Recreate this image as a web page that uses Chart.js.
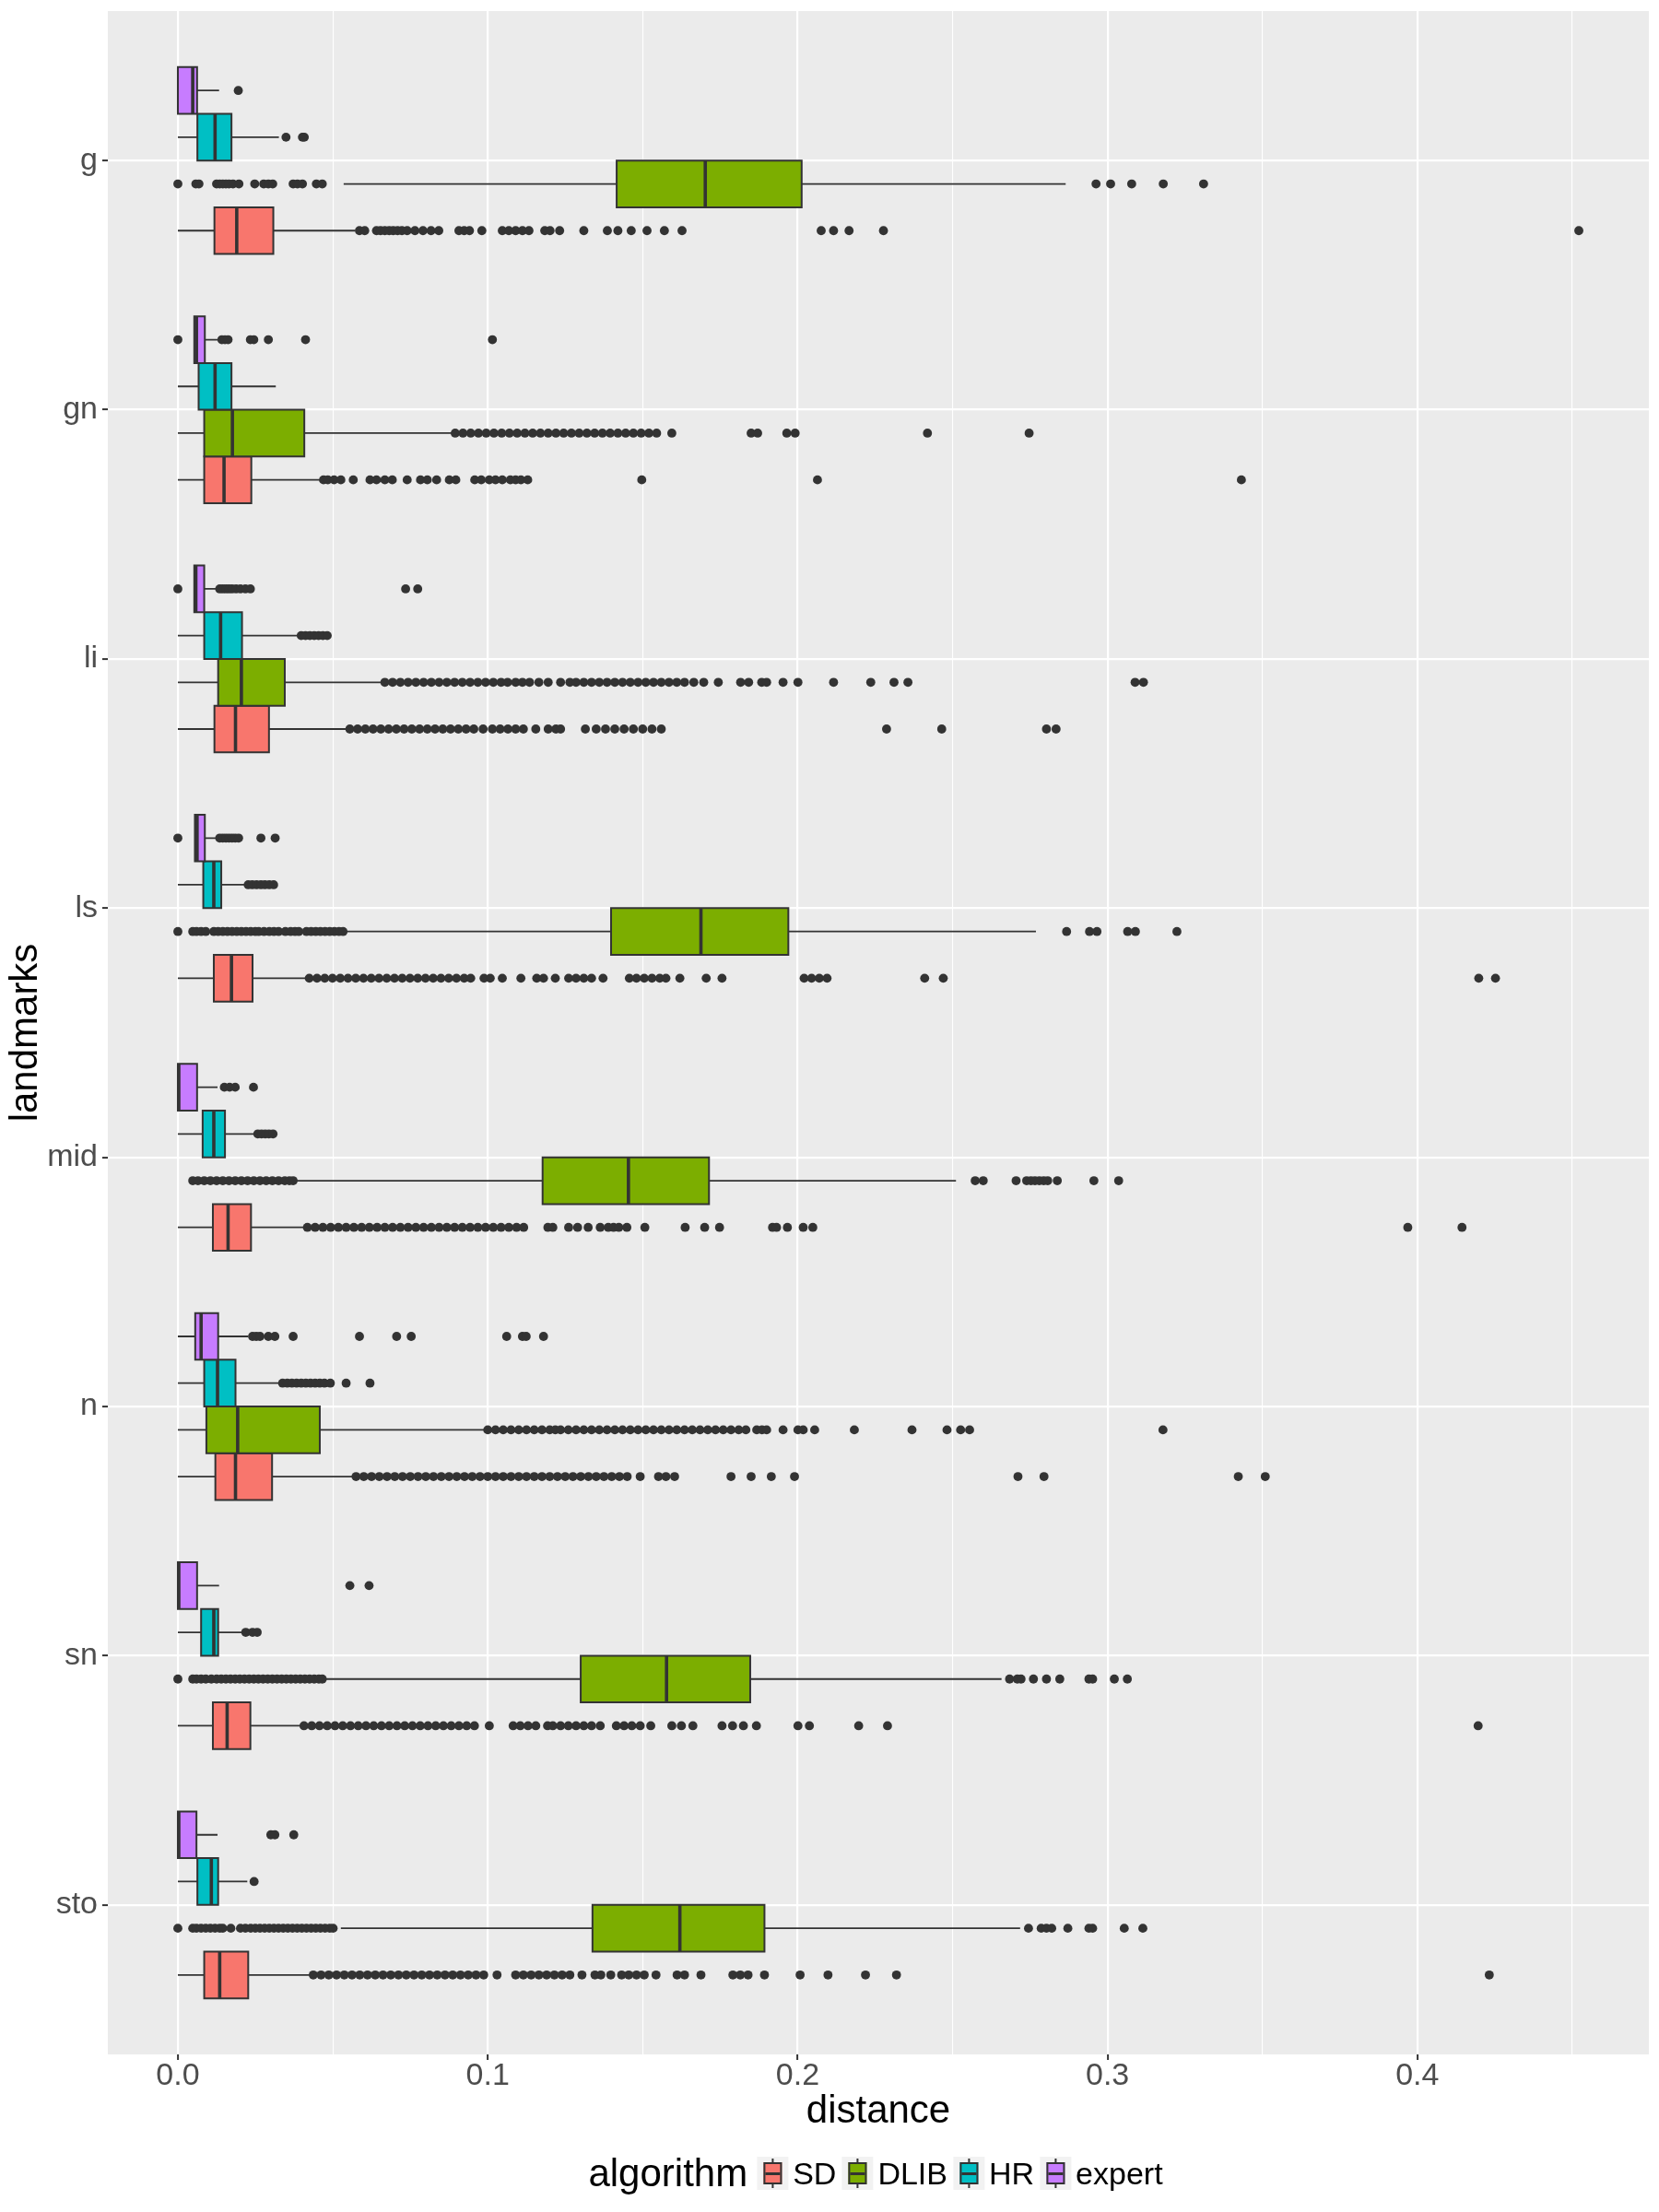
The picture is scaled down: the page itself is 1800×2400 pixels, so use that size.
<!DOCTYPE html>
<html>
<head>
<meta charset="utf-8">
<script src="https://cdn.jsdelivr.net/npm/chart.js@4.4.1/dist/chart.umd.min.js"></script>
<style>
  body { margin: 0; background: #fff; }
  #wrap { position: relative; width: 1800px; height: 2400px; }
  #legend {
    position: absolute; left: 953px; top: 2337px; height: 42px;
    transform: translateX(-50%);
    display: flex; align-items: center; white-space: nowrap;
    font-family: "Liberation Sans", Arial, Helvetica, sans-serif; color: #000;
  }
  .ttl { font-size: 42px; line-height: 42px; margin-right: 10px; }
  .lab { font-size: 34px; line-height: 42px; margin-left: 5px; margin-right: 6px; }
  .key { position: relative; width: 34px; height: 36px; background: #F2F2F2; }
  .key .wh { position: absolute; left: 16px; top: 2px; width: 2px; height: 32px; background: #333; }
  .key .bx { position: absolute; left: 7px; top: 6px; width: 20px; height: 24px; border: 2px solid #333; box-sizing: border-box; }
  .key .md { position: absolute; left: 0; right: 0; top: 50%; height: 3px; margin-top: -1.5px; background: #333; }
</style>
</head>
<body>
<div id="wrap">
  <canvas id="graph" width="1800" height="2400"></canvas>
  <div id="legend"><span class="ttl">algorithm</span></div>
</div>
<script>
// landmarks, top to bottom
const categories = ["g", "gn", "li", "ls", "mid", "n", "sn", "sto"];
const algorithms = ["SD", "DLIB", "HR", "expert"];
const xGrid = [0, 0.05, 0.1, 0.15, 0.2, 0.25, 0.3, 0.35, 0.4, 0.45];
const xMin = -0.0226;
const xMax = 0.4747;

// SD
const sdLow  = [0, 0, 0, 0, 0, 0, 0, 0];
const sdQ1   = [0.0118, 0.0085, 0.0118, 0.0116, 0.0113, 0.0121, 0.0113, 0.0085];
const sdMed  = [0.0190, 0.0149, 0.0186, 0.0173, 0.0162, 0.0186, 0.0159, 0.0135];
const sdQ3   = [0.0308, 0.0237, 0.0294, 0.0241, 0.0236, 0.0304, 0.0234, 0.0227];
const sdHigh = [0.0572, 0.0461, 0.0548, 0.0419, 0.0412, 0.0569, 0.0401, 0.0432];
const sdOutliers = [
  [0.0586, 0.0603, 0.0641, 0.0654, 0.0668, 0.0682, 0.0695, 0.0709, 0.0723, 0.0740, 0.0765, 0.0791, 0.0817, 0.0842, 0.0907, 0.0924, 0.0941, 0.0981, 0.1047, 0.1068, 0.1090, 0.1112, 0.1133, 0.1184, 0.1201, 0.1232, 0.1310, 0.1386, 0.1420, 0.1463, 0.1514, 0.1570, 0.1627, 0.2076, 0.2116, 0.2166, 0.2277, 0.4521],
  [0.0470, 0.0484, 0.0504, 0.0526, 0.0566, 0.0620, 0.0641, 0.0668, 0.0692, 0.0740, 0.0783, 0.0805, 0.0835, 0.0876, 0.0897, 0.0958, 0.0979, 0.1005, 0.1025, 0.1047, 0.1073, 0.1090, 0.1107, 0.1129, 0.1497, 0.2064, 0.3432],
  [0.0555, 0.0580, 0.0605, 0.0630, 0.0655, 0.0680, 0.0705, 0.0730, 0.0755, 0.0780, 0.0805, 0.0830, 0.0855, 0.0880, 0.0905, 0.0930, 0.0955, 0.0985, 0.1015, 0.1040, 0.1065, 0.1090, 0.1115, 0.1155, 0.1195, 0.1220, 0.1235, 0.1315, 0.1350, 0.1380, 0.1410, 0.1440, 0.1470, 0.1500, 0.1530, 0.1560, 0.2287, 0.2465, 0.2803, 0.2834],
  [0.0424, 0.0449, 0.0474, 0.0499, 0.0524, 0.0549, 0.0574, 0.0599, 0.0624, 0.0649, 0.0674, 0.0699, 0.0724, 0.0749, 0.0774, 0.0799, 0.0824, 0.0849, 0.0874, 0.0899, 0.0924, 0.0945, 0.0988, 0.1008, 0.1047, 0.1107, 0.1158, 0.1180, 0.1218, 0.1261, 0.1285, 0.1310, 0.1335, 0.1372, 0.1457, 0.1480, 0.1505, 0.1530, 0.1555, 0.1575, 0.1620, 0.1705, 0.1756, 0.2021, 0.2045, 0.2070, 0.2095, 0.2410, 0.2470, 0.4198, 0.4252],
  [0.0418, 0.0443, 0.0468, 0.0493, 0.0518, 0.0543, 0.0568, 0.0593, 0.0618, 0.0643, 0.0668, 0.0693, 0.0718, 0.0743, 0.0768, 0.0793, 0.0818, 0.0843, 0.0868, 0.0893, 0.0918, 0.0943, 0.0968, 0.0993, 0.1018, 0.1043, 0.1068, 0.1093, 0.1116, 0.1194, 0.1210, 0.1261, 0.1290, 0.1324, 0.1363, 0.1389, 0.1406, 0.1423, 0.1449, 0.1507, 0.1637, 0.1700, 0.1748, 0.1919, 0.1932, 0.1967, 0.2018, 0.2049, 0.3969, 0.4144],
  [0.0575, 0.0600, 0.0625, 0.0650, 0.0675, 0.0700, 0.0725, 0.0750, 0.0775, 0.0800, 0.0825, 0.0850, 0.0875, 0.0900, 0.0925, 0.0950, 0.0975, 0.1000, 0.1025, 0.1050, 0.1075, 0.1100, 0.1125, 0.1150, 0.1175, 0.1200, 0.1225, 0.1250, 0.1275, 0.1300, 0.1325, 0.1350, 0.1375, 0.1400, 0.1425, 0.1450, 0.1492, 0.1551, 0.1575, 0.1603, 0.1785, 0.1850, 0.1915, 0.1990, 0.2711, 0.2795, 0.3422, 0.3509],
  [0.0407, 0.0432, 0.0457, 0.0482, 0.0507, 0.0532, 0.0557, 0.0582, 0.0607, 0.0632, 0.0657, 0.0682, 0.0707, 0.0732, 0.0757, 0.0782, 0.0807, 0.0832, 0.0857, 0.0882, 0.0907, 0.0932, 0.0957, 0.1005, 0.1082, 0.1105, 0.1130, 0.1155, 0.1193, 0.1210, 0.1235, 0.1260, 0.1285, 0.1310, 0.1335, 0.1363, 0.1415, 0.1440, 0.1465, 0.1492, 0.1526, 0.1594, 0.1625, 0.1662, 0.1756, 0.1790, 0.1825, 0.1867, 0.2001, 0.2038, 0.2197, 0.2290, 0.4196],
  [0.0437, 0.0462, 0.0487, 0.0512, 0.0537, 0.0562, 0.0587, 0.0612, 0.0637, 0.0662, 0.0687, 0.0712, 0.0737, 0.0762, 0.0787, 0.0812, 0.0837, 0.0862, 0.0887, 0.0912, 0.0937, 0.0962, 0.0987, 0.1030, 0.1090, 0.1115, 0.1140, 0.1165, 0.1190, 0.1215, 0.1240, 0.1265, 0.1304, 0.1346, 0.1365, 0.1397, 0.1432, 0.1455, 0.1480, 0.1505, 0.1543, 0.1611, 0.1635, 0.1688, 0.1791, 0.1815, 0.1840, 0.1893, 0.2008, 0.2098, 0.2219, 0.2319, 0.4232]
];

// DLIB
const dlibLow  = [0.0535, 0, 0, 0.0543, 0.0384, 0, 0.0475, 0.0526];
const dlibQ1   = [0.1416, 0.0085, 0.0130, 0.1398, 0.1177, 0.0092, 0.1300, 0.1338];
const dlibMed  = [0.1702, 0.0176, 0.0205, 0.1688, 0.1454, 0.0193, 0.1577, 0.1620];
const dlibQ3   = [0.2013, 0.0408, 0.0345, 0.1970, 0.1714, 0.0458, 0.1847, 0.1893];
const dlibHigh = [0.2865, 0.0890, 0.0663, 0.2769, 0.2511, 0.0996, 0.2658, 0.2718];
const dlibOutliers = [
  [0, 0.0058, 0.0068, 0.0125, 0.0135, 0.0145, 0.0155, 0.0165, 0.0178, 0.0197, 0.0248, 0.0277, 0.0292, 0.0306, 0.0372, 0.0386, 0.0402, 0.0447, 0.0466, 0.2963, 0.3010, 0.3078, 0.3180, 0.3310],
  [0.0895, 0.0920, 0.0945, 0.0970, 0.0995, 0.1020, 0.1045, 0.1070, 0.1095, 0.1120, 0.1145, 0.1170, 0.1195, 0.1220, 0.1245, 0.1270, 0.1295, 0.1320, 0.1345, 0.1370, 0.1395, 0.1420, 0.1445, 0.1470, 0.1495, 0.1520, 0.1545, 0.1594, 0.1850, 0.1871, 0.1965, 0.1992, 0.2419, 0.2747],
  [0.0668, 0.0693, 0.0718, 0.0743, 0.0768, 0.0793, 0.0818, 0.0843, 0.0868, 0.0893, 0.0918, 0.0943, 0.0968, 0.0993, 0.1018, 0.1043, 0.1064, 0.1090, 0.1112, 0.1135, 0.1165, 0.1195, 0.1235, 0.1265, 0.1285, 0.1310, 0.1335, 0.1360, 0.1385, 0.1410, 0.1435, 0.1460, 0.1485, 0.1510, 0.1535, 0.1560, 0.1585, 0.1610, 0.1635, 0.1665, 0.1697, 0.1744, 0.1816, 0.1842, 0.1884, 0.1900, 0.1953, 0.2001, 0.2116, 0.2236, 0.2311, 0.2356, 0.3089, 0.3116],
  [0, 0.0048, 0.0060, 0.0075, 0.0090, 0.0116, 0.0130, 0.0145, 0.0160, 0.0175, 0.0190, 0.0205, 0.0220, 0.0235, 0.0250, 0.0261, 0.0278, 0.0295, 0.0310, 0.0325, 0.0347, 0.0364, 0.0378, 0.0390, 0.0415, 0.0430, 0.0445, 0.0460, 0.0475, 0.0490, 0.0505, 0.0520, 0.0533, 0.2868, 0.2942, 0.2966, 0.3065, 0.3090, 0.3224],
  [0.0048, 0.0065, 0.0085, 0.0105, 0.0125, 0.0145, 0.0165, 0.0185, 0.0205, 0.0225, 0.0245, 0.0265, 0.0285, 0.0305, 0.0325, 0.0345, 0.0360, 0.0372, 0.2573, 0.2599, 0.2705, 0.2739, 0.2753, 0.2766, 0.2780, 0.2794, 0.2807, 0.2838, 0.2956, 0.3036],
  [0.1000, 0.1025, 0.1050, 0.1075, 0.1100, 0.1125, 0.1150, 0.1175, 0.1200, 0.1218, 0.1235, 0.1260, 0.1285, 0.1310, 0.1335, 0.1360, 0.1385, 0.1410, 0.1435, 0.1460, 0.1485, 0.1510, 0.1535, 0.1560, 0.1585, 0.1610, 0.1635, 0.1660, 0.1685, 0.1710, 0.1735, 0.1760, 0.1785, 0.1810, 0.1833, 0.1868, 0.1885, 0.1900, 0.1953, 0.2001, 0.2018, 0.2055, 0.2183, 0.2369, 0.2482, 0.2526, 0.2555, 0.3179],
  [0, 0.0048, 0.0060, 0.0075, 0.0090, 0.0108, 0.0125, 0.0140, 0.0155, 0.0170, 0.0185, 0.0200, 0.0215, 0.0230, 0.0245, 0.0260, 0.0275, 0.0290, 0.0305, 0.0320, 0.0335, 0.0350, 0.0365, 0.0380, 0.0395, 0.0410, 0.0425, 0.0440, 0.0455, 0.0466, 0.2684, 0.2709, 0.2721, 0.2761, 0.2803, 0.2846, 0.2940, 0.2952, 0.3022, 0.3064],
  [0, 0.0048, 0.0060, 0.0075, 0.0090, 0.0105, 0.0120, 0.0135, 0.0145, 0.0171, 0.0202, 0.0218, 0.0235, 0.0250, 0.0265, 0.0280, 0.0295, 0.0310, 0.0325, 0.0340, 0.0355, 0.0370, 0.0385, 0.0400, 0.0415, 0.0430, 0.0445, 0.0460, 0.0475, 0.0490, 0.0501, 0.2745, 0.2786, 0.2803, 0.2820, 0.2872, 0.2940, 0.2952, 0.3054, 0.3114]
];

// HR
const hrLow  = [0, 0, 0, 0, 0, 0, 0, 0];
const hrQ1   = [0.0063, 0.0067, 0.0085, 0.0082, 0.0080, 0.0085, 0.0075, 0.0063];
const hrMed  = [0.0120, 0.0120, 0.0138, 0.0116, 0.0116, 0.0128, 0.0116, 0.0108];
const hrQ3   = [0.0173, 0.0173, 0.0207, 0.0140, 0.0152, 0.0186, 0.0130, 0.0130];
const hrHigh = [0.0326, 0.0316, 0.0390, 0.0219, 0.0253, 0.0330, 0.0210, 0.0224];
const hrOutliers = [
  [0.0349, 0.0402, 0.0408],
  [],
  [0.0398, 0.0412, 0.0426, 0.0440, 0.0454, 0.0468, 0.0482],
  [0.0227, 0.0240, 0.0254, 0.0268, 0.0281, 0.0295, 0.0309],
  [0.0258, 0.0270, 0.0282, 0.0294, 0.0307],
  [0.0338, 0.0353, 0.0368, 0.0383, 0.0398, 0.0413, 0.0428, 0.0443, 0.0458, 0.0473, 0.0492, 0.0543, 0.0620],
  [0.0219, 0.0241, 0.0256],
  [0.0246]
];

// expert
const expLow  = [0, 0.0053, 0.0053, 0.0055, 0, 0, 0, 0];
const expQ1   = [0, 0.0053, 0.0053, 0.0055, 0, 0.0056, 0, 0];
const expMed  = [0.0048, 0.0060, 0.0058, 0.0062, 0.0003, 0.0075, 0.0003, 0.0003];
const expQ3   = [0.0062, 0.0087, 0.0085, 0.0087, 0.0062, 0.0130, 0.0062, 0.0060];
const expHigh = [0.0133, 0.0133, 0.0125, 0.0125, 0.0128, 0.0227, 0.0133, 0.0128];
const expOutliers = [
  [0.0195],
  [0, 0.0142, 0.0152, 0.0162, 0.0234, 0.0245, 0.0292, 0.0412, 0.1015],
  [0, 0.0135, 0.0145, 0.0155, 0.0165, 0.0175, 0.0188, 0.0202, 0.0218, 0.0234, 0.0735, 0.0774],
  [0, 0.0135, 0.0145, 0.0155, 0.0165, 0.0175, 0.0185, 0.0196, 0.0268, 0.0314],
  [0.0150, 0.0167, 0.0185, 0.0244],
  [0.0241, 0.0253, 0.0265, 0.0292, 0.0313, 0.0372, 0.0586, 0.0706, 0.0753, 0.1061, 0.1112, 0.1124, 0.1180],
  [0.0555, 0.0617],
  [0.0300, 0.0313, 0.0374]
];

const colors = { SD: "#F8766D", DLIB: "#7CAE00", HR: "#00BFC4", expert: "#C77CFF" };
const ink = "#333333";

// dodge: 4 boxes share 0.75 of each category slot
const half = 0.09375;
const groups = [
  { name: "expert", shift: -0.28125, low: expLow, q1: expQ1, med: expMed, q3: expQ3, high: expHigh, out: expOutliers },
  { name: "HR", shift: -0.09375, low: hrLow, q1: hrQ1, med: hrMed, q3: hrQ3, high: hrHigh, out: hrOutliers },
  { name: "DLIB", shift: 0.09375, low: dlibLow, q1: dlibQ1, med: dlibMed, q3: dlibQ3, high: dlibHigh, out: dlibOutliers },
  { name: "SD", shift: 0.28125, low: sdLow, q1: sdQ1, med: sdMed, q3: sdQ3, high: sdHigh, out: sdOutliers }
];

const datasets = [];
groups.forEach(g => {
  const whiskers = [];
  const medians = [];
  const points = [];
  categories.forEach((c, i) => {
    const y = i + 1 + g.shift;
    // box outline, last point repeated so the fill spans q1..q3
    datasets.push({
      type: "line",
      data: [
        { x: g.q1[i], y: y - half }, { x: g.q3[i], y: y - half },
        { x: g.q3[i], y: y + half }, { x: g.q1[i], y: y + half },
        { x: g.q1[i], y: y - half }, { x: g.q3[i], y: y - half }
      ],
      borderColor: ink,
      borderWidth: 2,
      backgroundColor: colors[g.name],
      fill: "shape",
      pointRadius: 0,
      order: 2
    });
    whiskers.push({ x: g.low[i], y: y }, { x: g.q1[i], y: y }, { x: null, y: null });
    whiskers.push({ x: g.q3[i], y: y }, { x: g.high[i], y: y }, { x: null, y: null });
    medians.push({ x: g.med[i], y: y - half }, { x: g.med[i], y: y + half }, { x: null, y: null });
    g.out[i].forEach(v => points.push({ x: v, y: y }));
  });
  datasets.push({ type: "line", data: whiskers, borderColor: ink, borderWidth: 1.8, pointRadius: 0, fill: false, spanGaps: false, order: 3 });
  datasets.push({ type: "line", data: medians, borderColor: ink, borderWidth: 3.6, pointRadius: 0, fill: false, spanGaps: false, order: 1 });
  datasets.push({ type: "scatter", data: points, backgroundColor: ink, borderWidth: 0, pointRadius: 4.9, order: 0 });
});

function isMajor(v) {
  return Math.abs(v * 10 - Math.round(v * 10)) < 1e-6;
}

const panelBackground = {
  id: "panelBackground",
  beforeDraw(chart) {
    const { ctx, chartArea: a } = chart;
    ctx.save();
    ctx.fillStyle = "#EBEBEB";
    ctx.fillRect(a.left, a.top, a.right - a.left, a.bottom - a.top);
    ctx.restore();
  }
};

Chart.defaults.font.family = "'Liberation Sans', Arial, Helvetica, sans-serif";

new Chart(document.getElementById("graph").getContext("2d"), {
  type: "scatter",
  data: { datasets: datasets },
  plugins: [panelBackground],
  options: {
    responsive: false,
    maintainAspectRatio: false,
    animation: false,
    events: [],
    layout: { padding: { top: 12, right: 11, bottom: 83, left: 0 } },
    plugins: { legend: { display: false }, tooltip: { enabled: false } },
    scales: {
      x: {
        type: "linear",
        min: xMin,
        max: xMax,
        afterBuildTicks: axis => { axis.ticks = xGrid.map(v => ({ value: v })); },
        afterFit: axis => { axis.height = 88; axis.paddingLeft = 0; axis.paddingRight = 0; },
        border: { display: false },
        grid: {
          color: "#FFFFFF",
          lineWidth: ctx => (ctx.tick && isMajor(ctx.tick.value)) ? 2.2 : 1.1,
          tickLength: 6,
          tickWidth: 2,
          tickColor: ctx => (ctx.tick && isMajor(ctx.tick.value)) ? ink : "rgba(0,0,0,0)"
        },
        ticks: {
          callback: v => isMajor(v) ? v.toFixed(1) : "",
          font: { size: 34, lineHeight: 1 },
          color: "#4D4D4D",
          padding: 1,
          maxRotation: 0,
          autoSkip: false
        },
        title: { display: true, text: "distance", font: { size: 42 }, color: "#000000", padding: { top: 0, bottom: 0 } }
      },
      y: {
        type: "linear",
        reverse: true,
        min: 0.4,
        max: 8.6,
        afterBuildTicks: axis => { axis.ticks = categories.map((c, i) => ({ value: i + 1 })); },
        afterFit: axis => { axis.width = 117; axis.paddingTop = 0; axis.paddingBottom = 0; },
        border: { display: false },
        grid: { color: "#FFFFFF", lineWidth: 2.2, tickLength: 6, tickWidth: 2, tickColor: ink },
        ticks: {
          callback: v => categories[v - 1],
          font: { size: 34 },
          color: "#4D4D4D",
          padding: 5,
          autoSkip: false
        },
        title: { display: true, text: "landmarks", font: { size: 42 }, color: "#000000", padding: { top: 3, bottom: 0 } }
      }
    }
  }
});

// legend: ggplot style, title inline with the keys
const legend = document.getElementById("legend");
algorithms.forEach(name => {
  const key = document.createElement("span");
  key.className = "key";
  key.innerHTML = '<span class="wh"></span><span class="bx" style="background:' + colors[name] + '"><span class="md"></span></span>';
  const lab = document.createElement("span");
  lab.className = "lab";
  lab.textContent = name;
  legend.appendChild(key);
  legend.appendChild(lab);
});
</script>
</body>
</html>
